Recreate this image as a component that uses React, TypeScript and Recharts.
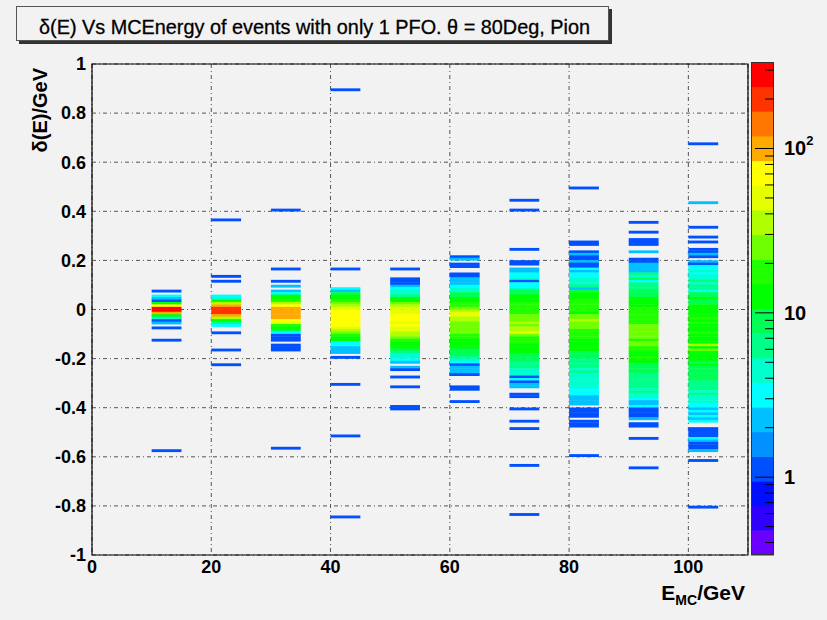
import { ScatterChart, Scatter, XAxis, YAxis, CartesianGrid, ReferenceArea } from 'recharts'

// ---- data: delta(E) vs E_MC, 5 GeV x bins, 0.01 GeV y bins ----
// lower edge of the filled x bin for each MC energy point
const energyBins = [10, 20, 30, 40, 50, 60, 70, 80, 90, 100]
const xBinWidth = 5
const yBinWidth = 0.01

// index (in units of 0.01) of the top bin of each dense band
const bandTop = [5, 5, 9, 8, 12, 21, 19, 27, 23, 24]

// counts per 0.01 bin, going downwards from bandTop
const e10 = [3, 2, 1, 12, 70, 260, 300, 110, 15, 4, 1, 2]
const e20 = [3, 5, 15, 40, 100, 180, 200, 170, 90, 40, 15, 6, 3]
const e30 = [2, 0, 2, 3, 12, 15, 20, 40, 60, 90, 100, 100, 95, 90, 65, 45, 20, 12, 8, 3, 1, 1, 1, 0, 1, 1, 1]
const e40 = [3, 2, 8, 12, 15, 20, 28, 40, 55, 65, 70, 72, 75, 70, 65, 60, 50, 40, 28, 18, 15, 12, 3, 3, 2, 2, 2]
const e50 = [1, 1, 1, 2, 3, 4, 5, 6, 12, 15, 25, 35, 45, 50, 55, 60, 62, 60, 55, 60, 50, 45, 40, 35, 25, 20, 15, 15, 12, 8, 6, 5, 4, 3]
const e60 = [1, 2, 0, 1, 1, 0, 0, 1, 1, 2, 2, 2, 3, 4, 5, 8, 10, 12, 15, 18, 20, 25, 30, 45, 50, 35, 30, 28, 25, 28,
  25, 22, 20, 18, 15, 15, 12, 12, 10, 10, 8, 6, 4, 3, 1, 2, 2, 2, 1]
const e70 = [1, 1, 0, 2, 2, 3, 3, 4, 1, 3, 3, 4, 8, 10, 12, 14, 15, 16, 18, 20, 20, 20, 22, 25, 28, 30, 28, 32, 30, 45,
  25, 20, 18, 16, 15, 14, 12, 12, 10, 9, 8, 7, 6, 6, 5, 5, 4, 1, 3, 1, 2, 2]
const e80 = [1, 1, 0, 0, 1, 2, 1, 1, 2, 1, 1, 3, 2, 3, 3, 4, 5, 4, 6, 2, 10, 12, 14, 15, 16, 18, 18, 17, 16, 15,
  25, 28, 30, 25, 28, 22, 20, 18, 16, 18, 15, 14, 13, 12, 11, 10, 9, 8, 7, 7, 6, 6, 5, 6, 5, 5, 4, 5, 4, 4,
  3, 3, 3, 2, 2, 2, 2, 0, 1, 1, 1, 1, 0, 1, 1, 1]
const e90 = [2, 0, 0, 1, 1, 2, 2, 2, 2, 6, 5, 8, 3, 6, 6, 7, 8, 10, 9, 11, 12, 14, 15, 16, 18, 17, 16, 18, 20, 18,
  22, 25, 24, 28, 25, 22, 20, 24, 22, 18, 16, 15, 14, 16, 12, 11, 10, 10, 9, 8, 7, 7, 6, 7, 6, 6, 5, 6, 5, 5,
  3, 2, 2, 3, 1, 1, 1, 1, 2, 0, 1, 1]
const e100 = [1, 1, 2, 1, 0, 2, 1, 3, 3, 4, 3, 4, 5, 6, 5, 7, 7, 3, 9, 10, 11, 10, 10, 12, 13, 14, 15, 15, 16, 15,
  16, 15, 14, 15, 16, 15, 14, 14, 13, 30, 13, 25, 12, 11, 12, 11, 10, 11, 10, 9, 10, 9, 9, 8, 7, 7, 6, 6, 5, 6,
  5, 5, 5, 3, 3, 2, 3, 2, 3, 2, 3, 0, 0, 1, 1, 1, 1, 3, 2, 1, 1, 1, 2]
const bandCounts = [e10, e20, e30, e40, e50, e60, e70, e80, e90, e100]

// isolated entries away from the band: [bin index, count]
const o10 = [[7, 1], [-8, 1], [-13, 1], [-58, 1]]
const o20 = [[36, 1], [13, 1], [11, 1], [-10, 1], [-17, 1], [-23, 1]]
const o30 = [[40, 1], [16, 1], [11, 1], [-57, 1]]
const o40 = [[89, 1], [16, 1], [-20, 1], [-31, 1], [-52, 1], [-85, 1]]
const o50 = [[16, 1], [-22, 2], [-24, 2], [-25, 1], [-28, 1], [-32, 1], [-40, 1], [-41, 1]]
const o60 = [[-32, 1], [-33, 1], [-38, 1]]
const o70 = [[44, 1], [40, 1], [24, 1], [-35, 1], [-36, 1], [-41, 1], [-46, 1], [-49, 1], [-64, 1], [-84, 1]]
const o80 = [[49, 1], [-60, 1]]
const o90 = [[35, 1], [31, 1], [28, 1], [27, 1], [26, 1], [-53, 1], [-65, 1]]
const o100 = [[67, 1], [43, 2], [33, 1], [29, 1], [27, 1], [-62, 1], [-81, 1]]
const outliers = [o10, o20, o30, o40, o50, o60, o70, o80, o90, o100]

const xTicks = [0, 20, 40, 60, 80, 100]
const yTicks = [-1, -0.8, -0.6, -0.4, -0.2, 0, 0.2, 0.4, 0.6, 0.8, 1]
const zLabels = [{ v: 1, t: '1' }, { v: 10, t: '10' }, { v: 100, t: '10', sup: '2' }]

// ---- layout / style ----
const W = 827
const H = 620
const PLOT = { left: 92, top: 64, width: 656, height: 491 }
const X_DOMAIN: [number, number] = [0, 110]
const Y_DOMAIN: [number, number] = [-1, 1]
const CELL_W = (xBinWidth * PLOT.width) / (X_DOMAIN[1] - X_DOMAIN[0])
const CELL_H = (yBinWidth * PLOT.height) / (Y_DOMAIN[1] - Y_DOMAIN[0])
const BG = '#f2f2f2'
const FONT = "'Liberation Sans', Arial, sans-serif"

const palette = [
  '#6a00ff', '#3000ff', '#0010ff', '#0050ff', '#0090ff', '#00c0ff', '#00ffff', '#00ffcc', '#00ff88', '#00ff55',
  '#00ff00', '#20ff00', '#70ff00', '#b0ff00', '#e5ff00', '#ffff00', '#ffaa00', '#ff7700', '#ff3300', '#ff0000',
]
const Z_MIN = 0.336
const Z_DECADES = 3

function colorOf(count: number) {
  const t = (Math.log10(count) - Math.log10(Z_MIN)) / Z_DECADES
  const i = Math.max(0, Math.min(palette.length - 1, Math.floor(t * palette.length)))
  return palette[i]
}

const xMinorTicks = Array.from({ length: 23 }, (_, i) => i * 5)
const yMinorTicks = Array.from({ length: 41 }, (_, i) => Math.round((-1 + i * 0.05) * 100) / 100)

interface Cell { x: number; y: number; count: number }

const cells: Cell[] = []
energyBins.forEach((xLow, c) => {
  const x = xLow + xBinWidth / 2
  bandCounts[c].forEach((count, i) => {
    if (count > 0) cells.push({ x, y: (bandTop[c] - i + 0.5) * yBinWidth, count })
  })
  outliers[c].forEach(([k, count]) => cells.push({ x, y: (k + 0.5) * yBinWidth, count }))
})

function renderCell(props: any) {
  const { cx, cy, payload } = props
  if (cx == null || cy == null) return <g />
  return (
    <rect
      x={cx - CELL_W / 2}
      y={cy - CELL_H / 2 - 0.2}
      width={CELL_W}
      height={CELL_H + 0.4}
      fill={colorOf(payload.count)}
    />
  )
}

const tickFont = { fill: '#000', fontSize: 18, fontWeight: 700, fontFamily: FONT }

// colour bar geometry
const BAR = { x: 751, y: 62, w: 23, h: 493 }
const zToY = (z: number) => BAR.y + BAR.h - ((Math.log10(z) - Math.log10(Z_MIN)) / Z_DECADES) * BAR.h
const zTicks = [0.4, 0.5, 0.6, 0.7, 0.8, 0.9, 1, 2, 3, 4, 5, 6, 7, 8, 9, 10, 20, 30, 40, 50, 60, 70, 80, 90, 100, 200, 300]

function Overlay() {
  return (
    <svg width={W} height={H} style={{ position: 'absolute', left: 0, top: 0, pointerEvents: 'none' }}>
      {/* title box */}
      <rect x={19} y={9} width={593} height={35} fill="#333" />
      <rect x={16.5} y={6.5} width={592} height={34} fill={BG} stroke="#555" />
      <text x={39} y={34} textLength={551} lengthAdjust="spacingAndGlyphs" fontFamily={FONT} fontSize={21}
        fill="#000" stroke="#000" strokeWidth={0.3}>
        δ(E) Vs MCEnergy of events with only 1 PFO. θ = 80Deg, Pion
      </text>

      {/* axis titles */}
      <text transform="translate(47,68) rotate(-90)" textAnchor="end" fontFamily={FONT} fontSize={20} fontWeight={700}>
        δ(E)/GeV
      </text>
      <text x={745} y={600} textAnchor="end" fontFamily={FONT} fontSize={21} fontWeight={700}>
        E<tspan fontSize={14} dy={5}>MC</tspan><tspan dy={-5}>/GeV</tspan>
      </text>

      {/* colour bar */}
      {palette.map((col, i) => (
        <rect key={col} x={BAR.x} y={BAR.y + BAR.h - ((i + 1) * BAR.h) / palette.length}
          width={BAR.w} height={BAR.h / palette.length + 0.5} fill={col} />
      ))}
      <rect x={BAR.x + 0.5} y={BAR.y + 0.5} width={BAR.w - 1} height={BAR.h - 1} fill="none" stroke="#333" />
      {zTicks.map(z => {
        const major = z === 1 || z === 10 || z === 100
        const y = zToY(z)
        return <line key={z} x1={BAR.x + BAR.w} x2={BAR.x + BAR.w - (major ? 19 : 9)} y1={y} y2={y} stroke="#000" />
      })}
      {zLabels.map(l => (
        <text key={l.v} x={784} y={zToY(l.v) + 7} fontFamily={FONT} fontSize={20} fontWeight={700}>
          {l.t}
          {l.sup && <tspan fontSize={13} dy={-10}>{l.sup}</tspan>}
        </text>
      ))}
    </svg>
  )
}

export default function App() {
  return (
    <div style={{ position: 'absolute', left: 0, top: 0, width: W, height: H, background: BG, overflow: 'hidden' }}>
      <ScatterChart
        width={W}
        height={H}
        margin={{ top: PLOT.top, right: W - PLOT.left - PLOT.width, bottom: H - PLOT.top - PLOT.height - 40, left: PLOT.left - 60 }}
      >
        <XAxis xAxisId="main" type="number" dataKey="x" domain={X_DOMAIN} ticks={xTicks} interval={0}
          height={40} axisLine={false} tickLine={false} tickSize={0} tickMargin={5} tick={tickFont} allowDataOverflow />
        <XAxis xAxisId="minor" type="number" domain={X_DOMAIN} ticks={xMinorTicks} interval={0} height={0}
          mirror tick={false} tickSize={8} axisLine={false} tickLine={{ stroke: '#000' }} allowDataOverflow />
        <XAxis xAxisId="major" type="number" domain={X_DOMAIN} ticks={xTicks} interval={0} height={0}
          mirror tick={false} tickSize={15} axisLine={false} tickLine={{ stroke: '#000' }} allowDataOverflow />
        <YAxis yAxisId="main" type="number" dataKey="y" domain={Y_DOMAIN} ticks={yTicks} interval={0}
          width={60} axisLine={false} tickLine={false} tickSize={0} tickMargin={6} tick={tickFont} allowDataOverflow />
        <YAxis yAxisId="minor" type="number" domain={Y_DOMAIN} ticks={yMinorTicks} interval={0} width={0}
          mirror tick={false} tickSize={10} axisLine={false} tickLine={{ stroke: '#000' }} allowDataOverflow />
        <YAxis yAxisId="major" type="number" domain={Y_DOMAIN} ticks={yTicks} interval={0} width={0}
          mirror tick={false} tickSize={20} axisLine={false} tickLine={{ stroke: '#000' }} allowDataOverflow />
        <Scatter xAxisId="main" yAxisId="main" data={cells} shape={renderCell} isAnimationActive={false} />
        <CartesianGrid xAxisId="main" yAxisId="main" stroke="#555" strokeDasharray="4 3 1 3" />
        <ReferenceArea xAxisId="main" yAxisId="main" x1={0} x2={110} y1={-1} y2={1}
          fill="none" fillOpacity={0} stroke="#000" strokeWidth={1.2} />
      </ScatterChart>
      <Overlay />
    </div>
  )
}
